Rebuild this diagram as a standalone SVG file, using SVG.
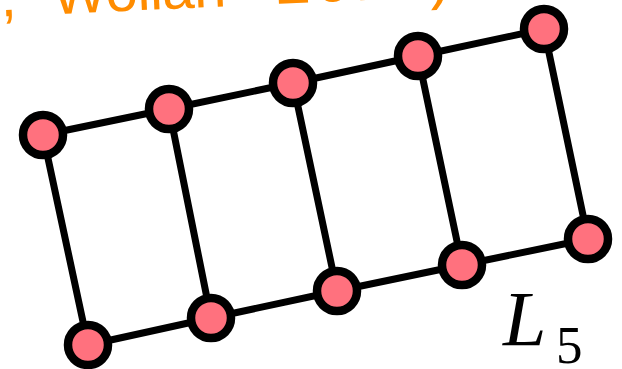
<svg xmlns="http://www.w3.org/2000/svg" width="622" height="369" viewBox="0 0 622 369">
<style>
.edge{stroke:#000;stroke-width:7;stroke-linecap:round;fill:none}
.node{fill:#ff717e;stroke:#000;stroke-width:8.5}
.cite{fill:#ff8c00;font-family:"Liberation Sans",Arial,sans-serif;font-size:58px}
.lab{font-family:"Liberation Serif","Times New Roman",serif;fill:#000}
</style>
<rect width="622" height="369" fill="#fff"/>
<g id="citation" transform="rotate(-2.6 80 13)">
<text class="cite" y="13"><tspan x="1">,</tspan><tspan x="53" textLength="174" lengthAdjust="spacing">Wollan</tspan><tspan x="276" font-size="64" textLength="176" lengthAdjust="spacing">2011)</tspan></text>
</g>
<g id="connectors">
<line class="edge" x1="43" y1="135" x2="169" y2="109"/>
<line class="edge" x1="169" y1="109" x2="293" y2="83"/>
<line class="edge" x1="293" y1="83" x2="418" y2="56"/>
<line class="edge" x1="418" y1="56" x2="544" y2="29"/>
<line class="edge" x1="88" y1="345" x2="211" y2="318"/>
<line class="edge" x1="211" y1="318" x2="337" y2="291"/>
<line class="edge" x1="337" y1="291" x2="462" y2="265"/>
<line class="edge" x1="462" y1="265" x2="588" y2="239"/>
<line class="edge" x1="43" y1="135" x2="88" y2="345"/>
<line class="edge" x1="169" y1="109" x2="211" y2="318"/>
<line class="edge" x1="293" y1="83" x2="337" y2="291"/>
<line class="edge" x1="418" y1="56" x2="462" y2="265"/>
<line class="edge" x1="544" y1="29" x2="588" y2="239"/>
</g>
<g id="n1"><circle class="node" cx="43" cy="135" r="20"/></g>
<g id="n2"><circle class="node" cx="169" cy="109" r="20"/></g>
<g id="n3"><circle class="node" cx="293" cy="83" r="20"/></g>
<g id="n4"><circle class="node" cx="418" cy="56" r="20"/></g>
<g id="n5"><circle class="node" cx="544" cy="29" r="20"/></g>
<g id="n6"><circle class="node" cx="88" cy="345" r="20"/></g>
<g id="n7"><circle class="node" cx="211" cy="318" r="20"/></g>
<g id="n8"><circle class="node" cx="337" cy="291" r="20"/></g>
<g id="n9"><circle class="node" cx="462" cy="265" r="20"/></g>
<g id="n10"><circle class="node" cx="588" cy="239" r="20"/></g>
<g id="label">
<text class="lab" x="503" y="345" font-size="78" font-style="italic">L</text>
<text class="lab" x="556" y="363" font-size="53">5</text>
</g>
</svg>
